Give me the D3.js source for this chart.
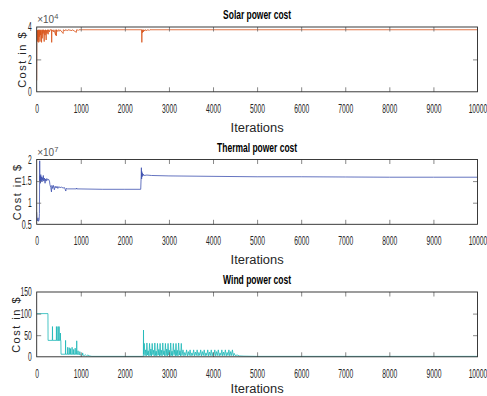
<!DOCTYPE html>
<html>
<head>
<meta charset="utf-8">
<script src="https://cdn.jsdelivr.net/npm/d3@7"></script>
<style>
  body { margin: 0; background: #fff; }
  text { font-family: "Liberation Sans Narrow", "Arial Narrow", "Liberation Sans", Arial, sans-serif; }
</style>
</head>
<body>
<svg id="chart" width="487" height="396"></svg>
<script>
// x axis is shared by all three panels
const xTicks = [0, 1000, 2000, 3000, 4000, 5000, 6000, 7000, 8000, 9000, 10000];

// solar cost, in units of 1e4 $  -> [iteration, cost]
const solarSeries = [
  [0, 0.7], [5, 3.8], [15, 3.1], [22, 3.8], [30, 3.2], [38, 3.83], [45, 3.05], [52, 3.8],
  [60, 3.4], [68, 3.83], [75, 3.1], [82, 3.8], [90, 3.5], [98, 3.83], [110, 3.05], [118, 3.8],
  [125, 3.3], [135, 3.83], [145, 3.6], [155, 3.83], [170, 3.1], [178, 3.8], [190, 3.5], [200, 3.83],
  [215, 3.2], [222, 3.8], [235, 3.6], [245, 3.83], [260, 3.55], [270, 3.83], [290, 3.7], [300, 3.83],
  [335, 3.82], [340, 3.05], [345, 3.83], [380, 3.7], [390, 3.83], [430, 3.5], [436, 3.83],
  [445, 3.45], [450, 3.83], [480, 3.72], [490, 3.83], [520, 3.75], [530, 3.83], [600, 3.6],
  [605, 3.83], [640, 3.76], [650, 3.83], [700, 3.78], [710, 3.83], [800, 3.78], [810, 3.83],
  [900, 3.67], [905, 3.83], [950, 3.8], [960, 3.83], [2380, 3.83], [2385, 3.05], [2390, 3.83],
  [2400, 3.65], [2410, 3.83], [2420, 3.7], [2430, 3.83], [2450, 3.75], [2460, 3.83], [2500, 3.78],
  [2510, 3.83], [2560, 3.8], [2570, 3.83], [10000, 3.83]
];

// thermal cost, in units of 1e7 $
const thermalSeries = [
  [0, 0.78], [5, 0.62], [15, 0.58], [30, 0.65], [40, 0.57], [55, 0.6], [62, 0.75], [68, 1.97],
  [72, 1.5], [78, 1.62], [85, 1.45], [92, 1.65], [100, 1.5], [110, 1.6], [120, 1.48], [130, 1.58],
  [140, 1.52], [150, 1.63], [160, 1.5], [175, 1.57], [190, 1.45], [200, 1.55], [215, 1.5],
  [230, 1.56], [250, 1.52], [270, 1.54], [290, 1.5], [300, 1.42], [320, 1.35], [335, 1.25],
  [345, 1.4], [360, 1.33], [380, 1.4], [400, 1.3], [420, 1.38], [440, 1.34], [460, 1.38],
  [480, 1.33], [500, 1.37], [530, 1.35], [560, 1.36], [600, 1.34], [630, 1.35], [650, 1.3],
  [660, 1.27], [670, 1.33], [700, 1.32], [900, 1.32], [905, 1.34], [910, 1.32], [1500, 1.31],
  [2000, 1.31], [2360, 1.31], [2370, 1.6], [2375, 1.81], [2380, 1.55], [2385, 1.72], [2390, 1.6],
  [2400, 1.68], [2410, 1.62], [2420, 1.66], [2440, 1.63], [2500, 1.64], [2600, 1.63],
  [3000, 1.62], [4000, 1.61], [5000, 1.6], [6000, 1.6], [7000, 1.595], [8000, 1.59],
  [9000, 1.59], [10000, 1.59]
];

// wind cost in $
const windSeries = [
  [0, 100], [255, 100], [258, 38], [355, 38], [358, 70], [361, 38], [445, 38], [448, 70], [451, 38],
  [480, 38], [483, 70], [486, 38], [505, 38], [508, 70], [511, 38], [535, 38], [538, 55], [541, 38],
  [548, 38], [552, 6], [652, 6], [655, 38], [658, 6], [700, 6], [703, 22], [706, 6], [735, 6],
  [738, 21], [741, 6], [765, 6], [768, 19], [771, 6], [800, 6], [803, 22], [806, 6], [835, 6],
  [838, 17], [841, 6], [870, 6], [873, 20], [876, 6], [905, 6], [908, 37], [911, 6], [935, 6],
  [938, 14], [941, 6], [975, 5], [978, 12], [981, 5], [1010, 4], [1040, 4], [1043, 9], [1046, 4],
  [1080, 3], [1100, 5], [1130, 2], [1160, 4], [1200, 2], [1250, 1], [2400, 1], [2420, 1],
  [2423, 62], [2426, 6],
  [2440, 31], [2455, 3], [2470, 16], [2485, 2], [2500, 32], [2515, 4], [2530, 14], [2545, 2],
  [2560, 31], [2575, 3], [2590, 18], [2605, 2], [2620, 31], [2635, 5], [2650, 15], [2665, 2],
  [2680, 32], [2695, 3], [2710, 13], [2725, 2], [2740, 31], [2755, 4], [2770, 17], [2785, 2],
  [2800, 31], [2815, 3], [2830, 15], [2845, 2], [2860, 32], [2875, 5], [2890, 14], [2905, 2],
  [2920, 31], [2935, 3], [2950, 18], [2965, 2], [2980, 31], [2995, 4], [3010, 15], [3025, 2],
  [3040, 32], [3055, 3], [3070, 13], [3085, 2], [3100, 31], [3115, 5], [3130, 16], [3145, 2],
  [3160, 31], [3175, 3], [3190, 15], [3205, 2], [3220, 32], [3235, 4], [3250, 14], [3265, 2],
  [3280, 31], [3295, 3],
  [3320, 16], [3340, 2], [3360, 10], [3380, 3], [3400, 16], [3420, 2], [3440, 12], [3460, 3],
  [3480, 16], [3500, 2], [3520, 9], [3540, 3], [3560, 16], [3580, 2], [3600, 11], [3620, 3],
  [3640, 16], [3660, 2], [3680, 10], [3700, 3], [3720, 16], [3740, 2], [3760, 12], [3780, 3],
  [3800, 16], [3820, 2], [3840, 9], [3860, 3], [3880, 16], [3900, 2], [3920, 11], [3940, 3],
  [3960, 16], [3980, 2], [4000, 10], [4020, 3], [4040, 16], [4060, 2], [4080, 12], [4100, 3],
  [4120, 16], [4140, 2], [4160, 9], [4180, 3], [4200, 16], [4220, 2], [4240, 11], [4260, 3],
  [4280, 16], [4300, 2], [4320, 10], [4340, 3], [4360, 16], [4380, 2], [4400, 12], [4420, 3],
  [4440, 16], [4460, 2], [4480, 8], [4500, 3], [4550, 4], [4600, 2], [4700, 1.5], [5000, 1],
  [10000, 1]
];

const solarTicks = [0, 2, 4];
const thermalTicks = [0.5, 1, 1.5, 2];
const windTicks = [0, 50, 100, 150];

const panels = [
  { title: "Solar power cost", titleLen: 68, series: solarSeries, ticks: solarTicks, domain: [0, 4],
    exp: "4", color: "#d95319", top: 27, labelGap: 40, ylabX: 26 },
  { title: "Thermal power cost", titleLen: 80, series: thermalSeries, ticks: thermalTicks, domain: [0.5, 2],
    exp: "7", color: "#3d50b0", top: 159.5, labelGap: 40, ylabX: 21 },
  { title: "Wind power cost", titleLen: 68, series: windSeries, ticks: windTicks, domain: [0, 150],
    exp: null, color: "#1db8b8", top: 292, labelGap: 36, ylabX: 20 }
];

const svg = d3.select("#chart");
const left = 36.7, right = 477.5, h = 64.8;
const tick = 4.5;

const x = d3.scaleLinear().domain([0, 10000]).range([left, right]);

// squeeze digits the way the original's narrow font does
function narrow(sel) {
  sel.each(function () {
    const s = this.textContent;
    if (!s) return;
    const w = s.replace(".", "").length * 3.75 + (s.includes(".") ? 2.4 : 0);
    d3.select(this).attr("textLength", w).attr("lengthAdjust", "spacingAndGlyphs");
  });
}

panels.forEach((p, i) => {
  const top = p.top, bottom = top + h;
  const y = d3.scaleLinear().domain(p.domain).range([bottom, top]);
  const g = svg.append("g");

  g.append("clipPath").attr("id", "clip" + i)
    .append("rect").attr("x", left).attr("y", top).attr("width", right - left).attr("height", h);

  // data line
  g.append("path")
    .datum(p.series)
    .attr("clip-path", "url(#clip" + i + ")")
    .attr("fill", "none")
    .attr("stroke", p.color)
    .attr("stroke-width", 0.8)
    .attr("d", d3.line().x(d => x(d[0])).y(d => y(d[1])));

  // axes, ticks pointing inward on all four sides
  const bx = g.append("g").attr("transform", "translate(0," + bottom + ")")
    .call(d3.axisBottom(x).tickValues(xTicks).tickSizeInner(-tick).tickSizeOuter(0).tickPadding(12.5)
      .tickFormat(d3.format("d")));
  const tx = g.append("g").attr("transform", "translate(0," + top + ")")
    .call(d3.axisTop(x).tickValues(xTicks).tickSizeInner(-tick).tickSizeOuter(0).tickFormat(""));
  const ly = g.append("g").attr("transform", "translate(" + left + ",0)")
    .call(d3.axisLeft(y).tickValues(p.ticks).tickSizeInner(-tick).tickSizeOuter(0).tickPadding(5)
      .tickFormat(d3.format("")));
  const ry = g.append("g").attr("transform", "translate(" + right + ",0)")
    .call(d3.axisRight(y).tickValues(p.ticks).tickSizeInner(-tick).tickSizeOuter(0).tickFormat(""));

  [bx, tx, ly, ry].forEach(a => {
    a.select(".domain").remove();
    a.selectAll("line").attr("stroke", "#6a6a6a").attr("stroke-width", 0.8);
    a.selectAll("text").attr("font-size", 12).attr("fill", "#262626").call(narrow);
  });
  // hide the ticks sitting on the box corners
  [bx, tx].forEach(a => a.selectAll(".tick line").filter(d => d === 0 || d === 10000).remove());
  [ly, ry].forEach(a => a.selectAll(".tick line").filter(d => d === p.domain[0] || d === p.domain[1]).remove());

  g.append("rect")
    .attr("x", left).attr("y", top).attr("width", right - left).attr("height", h)
    .attr("fill", "none").attr("stroke", "#262626").attr("stroke-width", 0.9);

  // title
  g.append("text")
    .attr("x", (left + right) / 2).attr("y", top - 8)
    .attr("text-anchor", "middle").attr("font-size", 12).attr("font-weight", "bold")
    .attr("textLength", p.titleLen).attr("lengthAdjust", "spacingAndGlyphs")
    .attr("fill", "#000").text(p.title);

  // x label
  g.append("text")
    .attr("x", (left + right) / 2).attr("y", bottom + p.labelGap)
    .attr("text-anchor", "middle").attr("font-size", 12)
    .attr("textLength", 53).attr("lengthAdjust", "spacingAndGlyphs")
    .attr("fill", "#262626").text("Iterations");

  // y label
  g.append("text")
    .attr("transform", "translate(" + p.ylabX + "," + (top + h / 2) + ") rotate(-90)")
    .attr("text-anchor", "middle").attr("font-size", 11)
    .attr("letter-spacing", 1.5)
    .style("font-family", "'Liberation Sans', Arial, sans-serif")
    .attr("fill", "#262626").text("Cost in $");

  // exponent marker
  if (p.exp) {
    const e = g.append("text")
      .attr("x", left + 0.5).attr("y", top - 4)
      .attr("font-size", 10).attr("fill", "#555");
    e.append("tspan").text("\u00d710");
    e.append("tspan").attr("dy", -4).attr("font-size", 7.5).text(p.exp);
  }
});
</script>
</body>
</html>
